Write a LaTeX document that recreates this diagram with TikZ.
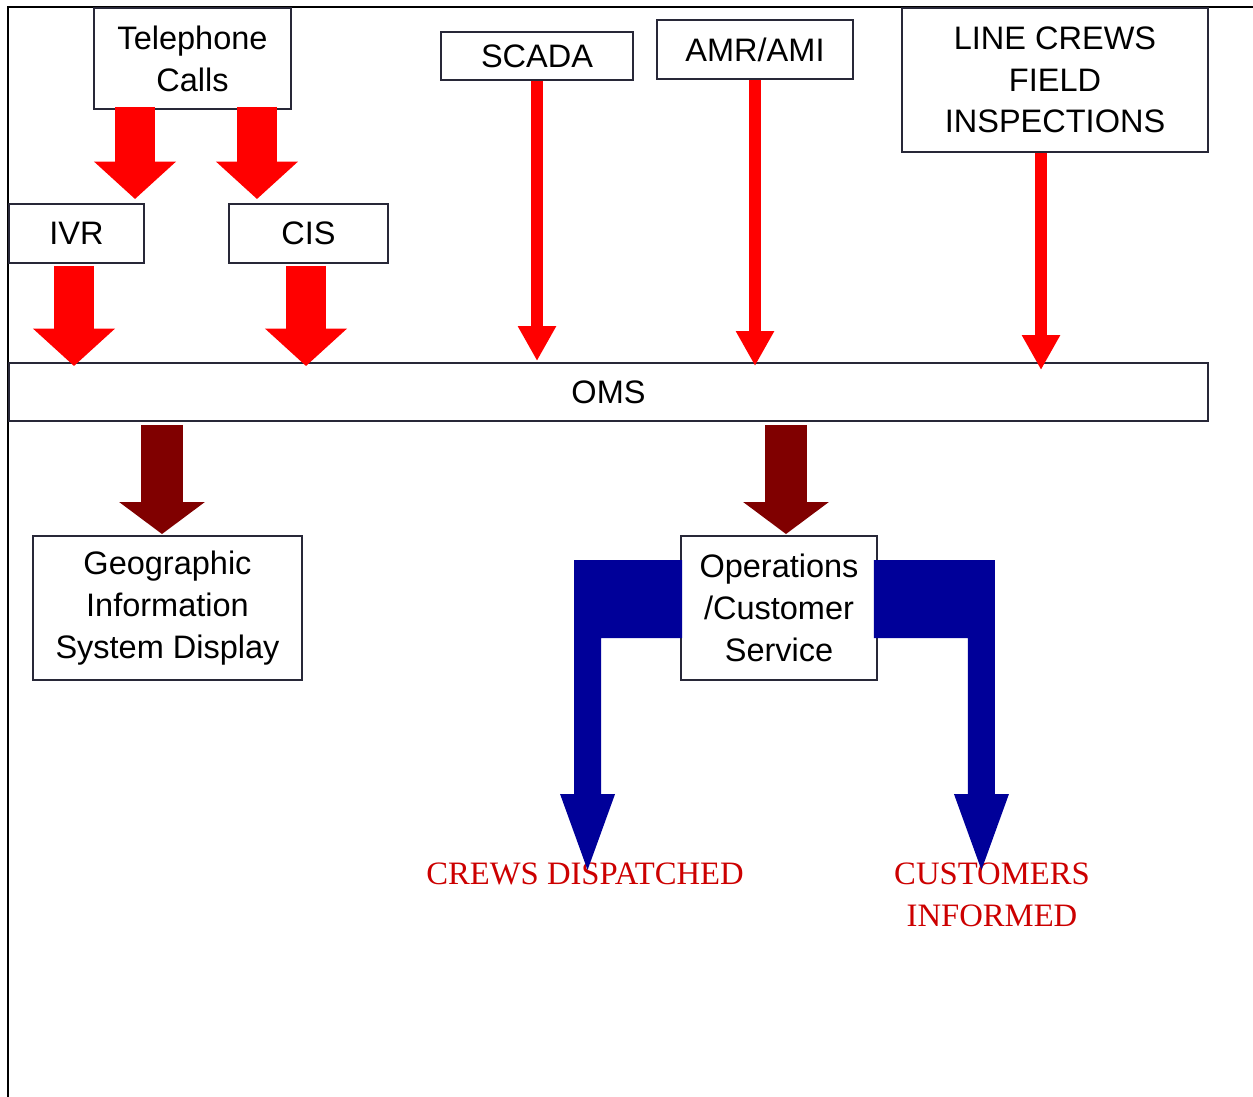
\documentclass[tikz,border=0pt]{standalone}
\usepackage{fontspec}
\setmainfont{Liberation Sans}
\newfontfamily\labelserif{Liberation Serif}
\usepackage{xcolor}
\usepackage{tikz}
\usetikzlibrary{arrows.meta}

\definecolor{arrowred}{RGB}{255,0,0}
\definecolor{omsmaroon}{RGB}{128,0,0}
\definecolor{navyfill}{RGB}{0,0,153}
\definecolor{labelred}{RGB}{204,0,0}
\definecolor{boxline}{RGB}{40,40,56}

\tikzset{
    box/.style = {draw = boxline, line width = 1.1pt, inner sep = 0pt, align = center,
        font = \fontsize{18.5}{23.8}\selectfont},
    fatred/.style = {draw = arrowred, line width = 0.8cm,
        -{Triangle[length = 0.75cm, width = 1.6cm]}},
    thinred/.style = {draw = arrowred, line width = 0.24cm,
        -{Triangle[length = 0.7cm, width = 0.72cm]}},
    fatmaroon/.style = {draw = omsmaroon, line width = 0.84cm,
        -{Triangle[length = 0.64cm, width = 1.68cm]}},
    outcome/.style = {text = labelred, align = center, inner sep = 0pt,
        font = \labelserif\fontsize{18.6}{23.8}\selectfont}
}

\begin{document}
\begin{tikzpicture}[x = 0.02cm, y = -0.02cm]
    \useasboundingbox (0,0) rectangle (1253,1097);
    \draw [line width = 1.2pt] (1253,7) -- (8,7) -- (8,1097);

    % sources
    \node [box, minimum width = 3.94cm, minimum height = 2.02cm] (tel) at (192.5,58.5) {Telephone\\Calls};
    \node [box, minimum width = 2.7cm, minimum height = 1.18cm] (ivr) at (76.5,233.5) {IVR};
    \node [box, minimum width = 3.18cm, minimum height = 1.18cm] (cis) at (308.5,233.5) {CIS};
    \node [box, minimum width = 3.84cm, minimum height = 0.96cm] (scada) at (537,56) {SCADA};
    \node [box, minimum width = 3.92cm, minimum height = 1.18cm] (amr) at (755,49.5) {AMR/AMI};
    \node [box, minimum width = 6.12cm, minimum height = 2.88cm] (crewsin) at (1055,80) {LINE CREWS\\FIELD\\INSPECTIONS};

    \node [box, minimum width = 23.98cm, minimum height = 1.16cm] (oms) at (608.5,392) {OMS};

    \node [box, minimum width = 5.38cm, minimum height = 2.88cm] (gis) at (167.5,608) {Geographic\\Information\\System Display};
    \node [box, minimum width = 3.92cm, minimum height = 2.88cm] (ops) at (779,608) {Operations\\/Customer\\Service};

    \node [outcome] (dispatched) at (585,874) {CREWS DISPATCHED};
    \node [outcome] (informed) at (992,895) {CUSTOMERS\\INFORMED};

    % calls split to IVR and CIS
    \coordinate (t1) at ([xshift = -1.15cm, yshift = 0.06cm]tel.south);
    \coordinate (t2) at ([xshift = 1.29cm, yshift = 0.06cm]tel.south);
    \draw [fatred, shorten > = 0.08cm] (t1) -- (t1 |- ivr.north);
    \draw [fatred, shorten > = 0.08cm] (t2) -- (t2 |- cis.north);

    % everything feeds the OMS
    \coordinate (i1) at ([xshift = -0.05cm, yshift = -0.04cm]ivr.south);
    \coordinate (c1) at ([xshift = -0.05cm, yshift = -0.04cm]cis.south);
    \draw [fatred, shorten > = -0.08cm] (i1) -- (i1 |- oms.north);
    \draw [fatred, shorten > = -0.08cm] (c1) -- (c1 |- oms.north);
    \draw [thinred, shorten > = 0.02cm] (scada.south) -- (scada.south |- oms.north);
    \draw [thinred, shorten > = -0.08cm] (amr.south) -- (amr.south |- oms.north);
    \coordinate (l1) at ([xshift = -0.28cm]crewsin.south);
    \draw [thinred, shorten > = -0.16cm] (l1) -- (l1 |- oms.north);

    % OMS outputs
    \coordinate (o1) at ([xshift = -0.11cm]gis.north);
    \coordinate (o2) at ([xshift = 0.14cm]ops.north);
    \draw [fatmaroon, shorten < = 0.06cm, shorten > = 0.02cm] (o1 |- oms.south) -- (o1);
    \draw [fatmaroon, shorten < = 0.06cm, shorten > = 0.02cm] (o2 |- oms.south) -- (o2);

    % bent arrows out of operations
    \fill [navyfill] ([shift = {(2,-48)}]ops.west) -- ++(-108,0) -- ++(0,234) -- ++(-14,0)
        -- ++(27.5,76) -- ++(27.5,-76) -- ++(-14,0) -- ++(0,-156) -- ++(81,0) -- cycle;
    \fill [navyfill] ([shift = {(-4,-48)}]ops.east) -- ++(121,0) -- ++(0,234) -- ++(14,0)
        -- ++(-27.5,76) -- ++(-27.5,-76) -- ++(14,0) -- ++(0,-156) -- ++(-94,0) -- cycle;
\end{tikzpicture}
\end{document}
